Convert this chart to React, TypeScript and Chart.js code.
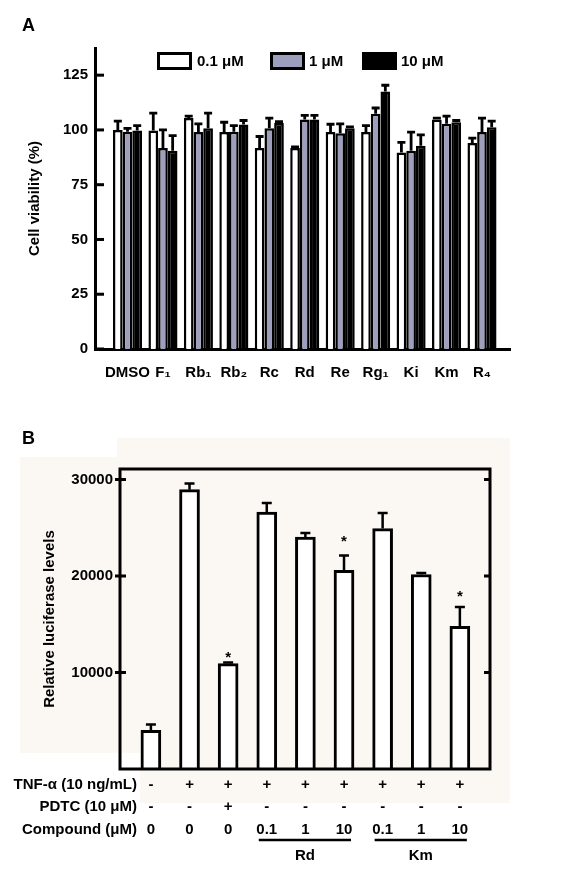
import React, { useEffect, useRef } from 'react';
import { Chart, registerables } from 'chart.js';

Chart.register(...registerables);

const FONT = '"Liberation Sans", Arial, Helvetica, sans-serif';

// ---------- Panel A data ----------
const compoundsA = ['DMSO', 'F₁', 'Rb₁', 'Rb₂', 'Rc', 'Rd', 'Re', 'Rg₁', 'Ki', 'Km', 'R₄'];
const doseLabelsA = ['0.1 μM', '1 μM', '10 μM'];
const viability01 = [100, 99.7, 105.5, 99, 91.7, 91.7, 99, 99, 89.7, 104.8, 94];
const viability1 = [99.2, 91.7, 99, 99.2, 100.8, 104.8, 98.5, 107.4, 90.5, 102.8, 99];
const viability10 = [99.7, 90.5, 100.8, 102.5, 103.2, 104.8, 100.8, 117.6, 92.8, 103.5, 101.2];
const err01 = [4, 8, 0.8, 4.5, 5.3, 0.6, 3.6, 3, 4.6, 0.6, 2.3];
const err1 = [1.5, 8.3, 3.8, 2.8, 4.6, 1.8, 4.3, 2.6, 8.5, 3.5, 6.4];
const err10 = [2.3, 6.9, 6.9, 1.8, 0.6, 1.8, 0.6, 2.8, 4.9, 0.8, 2.8];
const yTicksA = [0, 25, 50, 75, 100, 125];

// ---------- Panel B data ----------
const luciferase = [4020, 28960, 10930, 26640, 24050, 20600, 24920, 20160, 14800];
const luciferaseErr = [590, 630, 100, 940, 420, 1520, 1620, 150, 2000];
const starLevels = [null, null, 12000, null, null, 24000, null, null, 18400];
const rowLabels = ['TNF-α (10 ng/mL)', 'PDTC (10 μM)', 'Compound (μM)'];
const tnfRow = ['-', '+', '+', '+', '+', '+', '+', '+', '+'];
const pdtcRow = ['-', '-', '+', '-', '-', '-', '-', '-', '-'];
const compoundRow = ['0', '0', '0', '0.1', '1', '10', '0.1', '1', '10'];
const compoundGroupNames = ['Rd', 'Km'];
const compoundGroupStart = [3, 6];
const compoundGroupEnd = [5, 8];
const yTicksB = [10000, 20000, 30000];

const fillsA = ['#ffffff', '#9e9ebd', '#000000'];

function drawErrorBars(chart: any, errs: number[][], capW: number, lw: number) {
  const ctx = chart.ctx;
  const ys = chart.scales.y;
  ctx.save();
  ctx.strokeStyle = '#000';
  ctx.lineWidth = lw;
  errs.forEach((arr, d) => {
    const meta = chart.getDatasetMeta(d);
    meta.data.forEach((bar: any, i: number) => {
      const v = chart.data.datasets[d].data[i].y;
      const top = ys.getPixelForValue(v + arr[i]);
      ctx.beginPath();
      ctx.moveTo(bar.x, bar.y);
      ctx.lineTo(bar.x, top);
      ctx.moveTo(bar.x - capW / 2, top);
      ctx.lineTo(bar.x + capW / 2, top);
      ctx.stroke();
    });
  });
  ctx.restore();
}

const pluginA = {
  id: 'panelA',
  afterDraw(chart: any) {
    const ctx = chart.ctx;
    const { left } = chart.chartArea;
    const ys = chart.scales.y;
    ctx.save();
    ctx.strokeStyle = '#000';
    ctx.lineWidth = 3;
    yTicksA.forEach((v) => {
      const y = ys.getPixelForValue(v);
      ctx.beginPath();
      ctx.moveTo(left, y);
      ctx.lineTo(left + 9, y);
      ctx.stroke();
    });
    ctx.restore();
    drawErrorBars(chart, [err01, err1, err10], 8, 2.8);
    ctx.save();
    const boxes = [
      [157, 192, 197],
      [270, 305, 309],
      [362, 397, 401],
    ];
    boxes.forEach((b, d) => {
      ctx.fillStyle = fillsA[d];
      ctx.fillRect(b[0], 52, b[1] - b[0], 18);
      ctx.strokeStyle = '#000';
      ctx.lineWidth = 3;
      ctx.strokeRect(b[0] + 1.5, 53.5, b[1] - b[0] - 3, 15);
      ctx.fillStyle = '#000';
      ctx.font = `bold 15px ${FONT}`;
      ctx.textBaseline = 'alphabetic';
      ctx.textAlign = 'left';
      ctx.fillText(doseLabelsA[d], b[2], 66);
    });
    ctx.font = `bold 18px ${FONT}`;
    ctx.fillText('A', 22, 31);
    ctx.restore();
  },
};

const pluginB = {
  id: 'panelB',
  beforeDraw(chart: any) {
    const ctx = chart.ctx;
    ctx.save();
    ctx.fillStyle = '#fbf8f3';
    ctx.fillRect(117, 18, 393, 315);
    ctx.fillRect(140, 333, 370, 50);
    ctx.fillRect(20, 37, 97, 296);
    ctx.restore();
  },
  afterDraw(chart: any) {
    const ctx = chart.ctx;
    const { left, right, top, bottom } = chart.chartArea;
    const ys = chart.scales.y;
    const xs = chart.scales.x;
    ctx.save();
    ctx.strokeStyle = '#000';
    ctx.lineWidth = 3;
    ctx.strokeRect(left, top, right - left, bottom - top);
    yTicksB.forEach((v) => {
      const y = ys.getPixelForValue(v);
      ctx.beginPath();
      ctx.moveTo(left - 5, y);
      ctx.lineTo(left + 6, y);
      ctx.moveTo(right - 6, y);
      ctx.lineTo(right, y);
      ctx.stroke();
    });
    ctx.restore();
    drawErrorBars(chart, [luciferaseErr], 10, 2.5);
    ctx.save();
    ctx.fillStyle = '#000';
    ctx.font = `bold 15px ${FONT}`;
    ctx.textAlign = 'center';
    ctx.textBaseline = 'alphabetic';
    starLevels.forEach((s, i) => {
      if (s == null) return;
      ctx.fillText('*', xs.getPixelForValue(i), ys.getPixelForValue(s) + 9);
    });
    const rows = [tnfRow, pdtcRow, compoundRow];
    const rowY = [365, 387, 410];
    ctx.textBaseline = 'middle';
    rows.forEach((r, k) => {
      ctx.textAlign = 'right';
      ctx.fillText(rowLabels[k], 137, rowY[k]);
      ctx.textAlign = 'center';
      r.forEach((t, i) => ctx.fillText(t, xs.getPixelForValue(i), rowY[k]));
    });
    ctx.strokeStyle = '#000';
    ctx.lineWidth = 2.5;
    compoundGroupNames.forEach((name, g) => {
      const x1 = xs.getPixelForValue(compoundGroupStart[g]) - 8;
      const x2 = xs.getPixelForValue(compoundGroupEnd[g]) + 7;
      ctx.beginPath();
      ctx.moveTo(x1, 420);
      ctx.lineTo(x2, 420);
      ctx.stroke();
      ctx.fillText(name, (x1 + x2) / 2, 436);
    });
    ctx.textAlign = 'left';
    ctx.textBaseline = 'alphabetic';
    ctx.font = `bold 18px ${FONT}`;
    ctx.fillText('B', 22, 24);
    ctx.restore();
  },
};

const tickFont = { family: FONT, size: 15, weight: 'bold' as const };
const titleFont = { family: FONT, size: 15, weight: 'bold' as const };

export default function App() {
  const refA = useRef<HTMLCanvasElement>(null);
  const refB = useRef<HTMLCanvasElement>(null);

  useEffect(() => {
    const datasetsA = [viability01, viability1, viability10].map((vals, d) => ({
      label: doseLabelsA[d],
      data: vals.map((y, i) => ({ x: i, y })),
      backgroundColor: fillsA[d],
      borderColor: '#000',
      borderWidth: 2.5,
      categoryPercentage: 0.82,
      barPercentage: 1,
    }));
    const chartA = new Chart(refA.current!, {
      type: 'bar',
      data: { datasets: datasetsA as any },
      options: {
        responsive: false,
        animation: false,
        devicePixelRatio: 1,
        layout: { padding: { left: 20, right: 66, top: 48, bottom: 0 } },
        plugins: { legend: { display: false }, tooltip: { enabled: false } },
        scales: {
          x: {
            type: 'linear',
            offset: false,
            min: -0.917,
            max: 10.79,
            grid: { display: false, drawTicks: false, offset: false },
            border: { display: true, width: 3, color: '#000' },
            afterBuildTicks: (s: any) => {
              s.ticks = compoundsA.map((_, i) => ({ value: i }));
            },
            afterFit: (s: any) => {
              s.height = 71;
            },
            ticks: {
              autoSkip: false,
              maxRotation: 0,
              padding: 15,
              color: '#000',
              font: tickFont,
              callback: (v: any) => compoundsA[Math.round(Number(v))] ?? '',
            },
          },
          y: {
            min: 0,
            max: 137.4,
            grid: { display: false, drawTicks: false },
            border: { display: true, width: 3, color: '#000' },
            afterBuildTicks: (s: any) => {
              s.ticks = yTicksA.map((v) => ({ value: v }));
            },
            afterFit: (s: any) => {
              s.width = 75;
            },
            ticks: { padding: 7, color: '#000', font: tickFont, callback: (v: any) => String(v) },
            title: {
              display: true,
              text: 'Cell viability (%)',
              color: '#000',
              font: titleFont,
              padding: { top: 6, bottom: 0 },
            },
          },
        },
      } as any,
      plugins: [pluginA],
    });

    const chartB = new Chart(refB.current!, {
      type: 'bar',
      data: {
        datasets: [
          {
            label: 'Relative luciferase levels',
            data: luciferase.map((y, i) => ({ x: i, y })),
            backgroundColor: '#ffffff',
            borderColor: '#000',
            borderWidth: 3,
            barThickness: 20,
          } as any,
        ],
      },
      options: {
        responsive: false,
        animation: false,
        devicePixelRatio: 1,
        layout: { padding: { left: 33, right: 86, top: 49, bottom: 100 } },
        plugins: { legend: { display: false }, tooltip: { enabled: false } },
        scales: {
          x: { type: 'linear', offset: false, min: -0.8, max: 8.78, display: false, grid: { offset: false } },
          y: {
            min: 0,
            max: 31100,
            grid: { display: false, drawTicks: false },
            border: { display: false },
            afterBuildTicks: (s: any) => {
              s.ticks = yTicksB.map((v) => ({ value: v }));
            },
            afterFit: (s: any) => {
              s.width = 87;
            },
            ticks: { padding: 7, color: '#000', font: tickFont, callback: (v: any) => String(v) },
            title: {
              display: true,
              text: 'Relative luciferase levels',
              color: '#000',
              font: titleFont,
              padding: { top: 8, bottom: 0 },
            },
          },
        },
      } as any,
      plugins: [pluginB],
    });

    return () => {
      chartA.destroy();
      chartB.destroy();
    };
  }, []);

  return (
    <div style={{ position: 'absolute', left: 0, top: 0, width: 576, height: 869, background: '#fff' }}>
      <canvas ref={refA} width={576} height={420} style={{ position: 'absolute', left: 0, top: 0 }} />
      <canvas ref={refB} width={576} height={449} style={{ position: 'absolute', left: 0, top: 420 }} />
    </div>
  );
}
